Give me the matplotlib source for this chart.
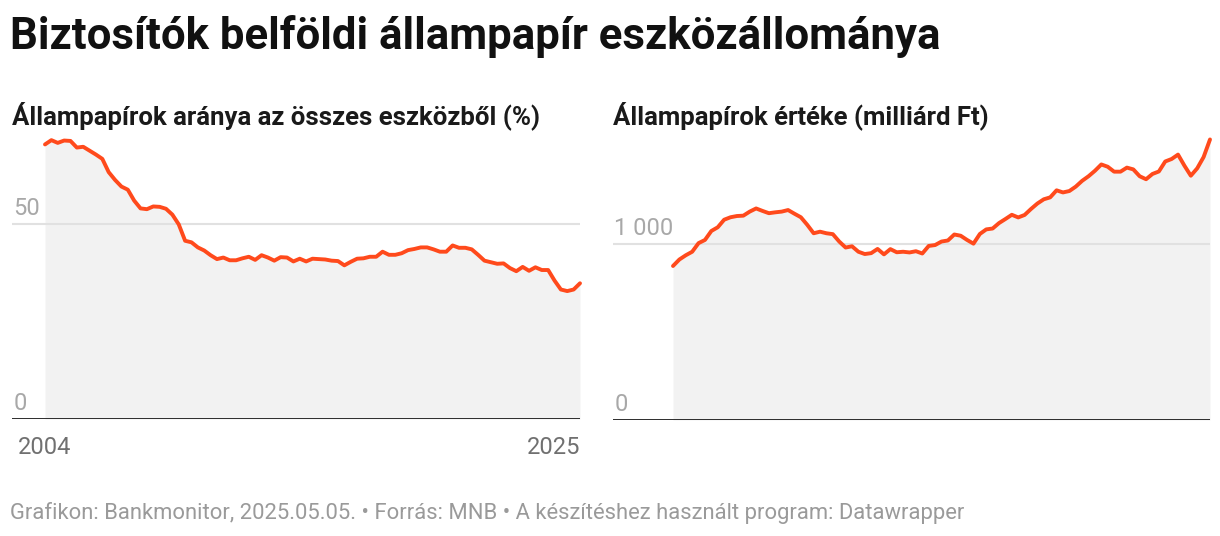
import numpy as np
import matplotlib
matplotlib.use("Agg")
import matplotlib.pyplot as plt
import matplotlib.transforms as mtrans

plt.rcParams["font.family"] = ["Roboto", "DejaVu Sans"]

# quarterly data, 2004 Q1 - 2025 Q1
start_year = 2004
end_year = 2025

share_pct = [70.4, 71.5, 70.8, 71.4, 71.3, 69.6, 69.8, 68.8, 67.8, 66.7,
             63.3, 61.3, 59.6, 58.8, 56.0, 54.0, 53.8, 54.5, 54.4, 53.9,
             52.4, 49.9, 45.7, 45.3, 44.0, 43.2, 42.0, 41.0, 41.4, 40.7,
             40.7, 41.2, 41.6, 40.8, 42.0, 41.4, 40.6, 41.5, 41.4, 40.4,
             41.1, 40.4, 41.1, 41.0, 40.9, 40.6, 40.5, 39.4, 40.3, 41.1,
             41.2, 41.6, 41.6, 42.9, 42.1, 42.1, 42.5, 43.3, 43.6, 44.0,
             44.0, 43.5, 42.9, 42.9, 44.5, 43.9, 43.9, 43.5, 42.1, 40.6,
             40.2, 39.8, 39.9, 38.7, 37.9, 39.0, 38.0, 38.9, 38.2, 38.2,
             35.5, 33.2, 32.8, 33.2, 34.8]

value_bn = [875, 912, 936, 956, 1005, 1023, 1074, 1095, 1138, 1152,
            1159, 1161, 1184, 1202, 1188, 1175, 1180, 1184, 1193, 1172,
            1152, 1109, 1061, 1070, 1061, 1056, 1014, 980, 987, 956,
            943, 948, 972, 941, 971, 953, 956, 952, 959, 946,
            989, 994, 1014, 1020, 1054, 1047, 1023, 1002, 1057, 1083,
            1088, 1119, 1142, 1166, 1151, 1165, 1199, 1230, 1254, 1265,
            1305, 1293, 1301, 1326, 1359, 1385, 1416, 1452, 1439, 1411,
            1411, 1434, 1424, 1385, 1368, 1398, 1412, 1469, 1483, 1508,
            1445, 1388, 1430, 1494, 1594]

left_ticks = [0, 50]
left_tick_labels = ["0", "50"]
right_ticks = [0, 1000]
right_tick_labels = ["0", "1 000"]

title = "Biztosítók belföldi állampapír eszközállománya"
sub_left = "Állampapírok aránya az összes eszközből (%)"
sub_right = "Állampapírok értéke (milliárd Ft)"
footer = ("Grafikon: Bankmonitor, 2025.05.05. • Forrás: MNB • "
          "A készítéshez használt program: Datawrapper")

LINE = "#ff4a1c"
FILL = "#f2f2f2"
GRID = "#e1e1e1"
TICK = "#a8a8a8"

W, H = 1220, 536
fig = plt.figure(figsize=(W / 100, H / 100), dpi=100)

x = start_year + np.arange(len(share_pct)) / 4.0


def px_axes(x0, x1, y0, y1):
    # pixel box (top-left origin) -> figure fraction axes
    return fig.add_axes([x0 / W, 1 - y1 / H, (x1 - x0) / W, (y1 - y0) / H])


def draw_panel(ax, yvals, ticks, labels, data_left_px, ax_left_px, ax_right_px, ytop):
    span_px = ax_right_px - data_left_px
    px_per_year = span_px / (end_year - start_year)
    ax.set_xlim(start_year - (data_left_px - ax_left_px) / px_per_year, end_year)
    ax.set_ylim(0, ytop)
    ax.fill_between(x, 0, yvals, color=FILL, lw=0, zorder=1)
    for t in ticks[1:]:
        ax.axhline(t, color=GRID, lw=1.5, zorder=2)
    ax.plot(x, yvals, color=LINE, lw=2.8, solid_joinstyle="round",
            solid_capstyle="round", zorder=3, clip_on=False)
    ax.axhline(0, color="#1a1a1a", lw=2.0, zorder=4)
    tr = mtrans.blended_transform_factory(ax.transAxes, ax.transData)
    tr = tr + mtrans.ScaledTranslation(0, 4 / 100, fig.dpi_scale_trans)
    for t, lab in zip(ticks, labels):
        ax.text(0.002, t, lab, transform=tr, ha="left", va="bottom",
                fontsize=17, color=TICK)
    ax.set_axis_off()


axL = px_axes(12, 580, 130, 419)
draw_panel(axL, share_pct, left_ticks, left_tick_labels, 45, 12, 580, 289 / 3.9)
axR = px_axes(613, 1210, 130, 420)
draw_panel(axR, value_bn, right_ticks, right_tick_labels, 673, 613, 1210, 290 / 0.176)

# x labels (left panel only)
xtr = mtrans.blended_transform_factory(axL.transData, axL.transAxes)
axL.text(start_year, -0.06, str(start_year), transform=xtr,
         ha="center", va="top", fontsize=17, color="#707070")
axL.text(end_year, -0.06, str(end_year), transform=xtr,
         ha="right", va="top", fontsize=17, color="#707070")

fig.text(10 / W, 1 - 37 / H, title, fontsize=31.5, fontweight="bold", color="#111111",
         ha="left", va="center")
fig.text(12 / W, 1 - 116 / H, sub_left, fontsize=18.5, fontweight="bold", color="#1a1a1a",
         ha="left", va="center")
fig.text(613 / W, 1 - 116 / H, sub_right, fontsize=18.5, fontweight="bold", color="#1a1a1a",
         ha="left", va="center")
fig.text(10 / W, 1 - 513 / H, footer, fontsize=15.8, color="#9a9a9a", ha="left", va="center")

fig.savefig("out.png", dpi=100)
